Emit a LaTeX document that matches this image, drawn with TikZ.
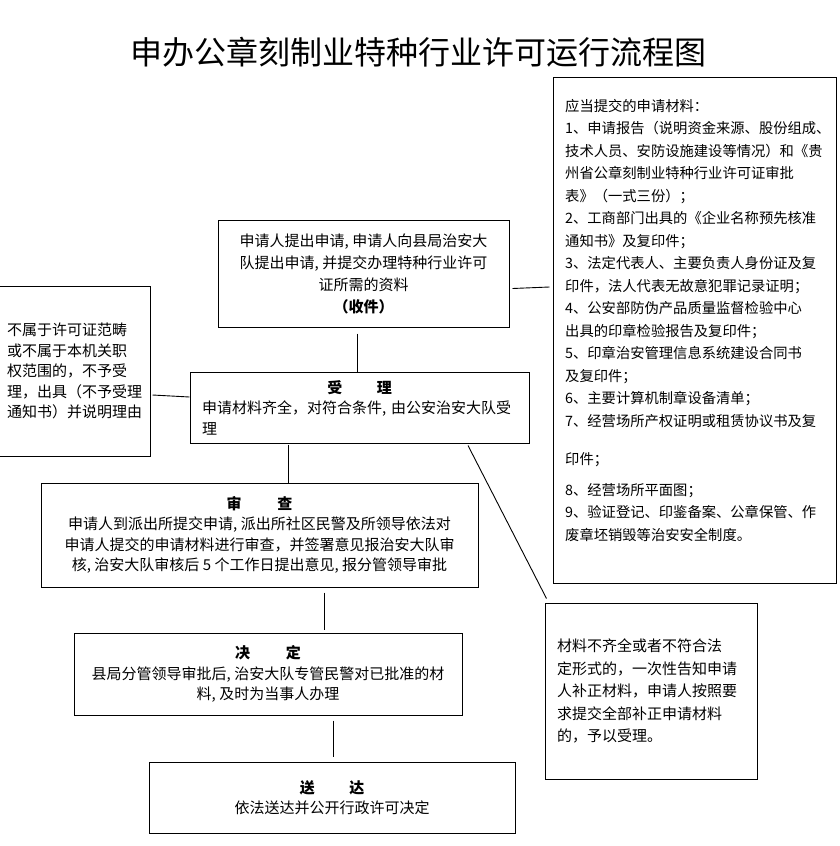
\documentclass[tikz,border=0pt]{standalone}
\usepackage{fontspec}
\setmainfont{Noto Sans CJK SC}
\usetikzlibrary{calc}
\begin{document}
\begin{tikzpicture}[x=1pt,y=-1pt,
  box/.style={draw, line width=1pt, inner sep=0pt, align=center, font=\fontsize{15}{20.5}\selectfont},
  conn/.style={line width=0.9pt},
  hd/.style={}]
\useasboundingbox (0,0) rectangle (840,846);
\fill[white] (0,0) rectangle (840,846);

\node[font=\fontsize{32}{36}\selectfont, inner sep=0pt] (title) at (418,52) {申办公章刻制业特种行业许可运行流程图};

% right materials box
\node[box, minimum width=283pt, minimum height=506pt] (mat) at (694.5,330) {};
\node[anchor=north west, inner sep=0pt, align=left, font=\fontsize{14.3}{22.5}\selectfont] (mattext) at (565,99) {应当提交的申请材料：\\
1、申请报告（说明资金来源、股份组成、\\
技术人员、安防设施建设等情况）和《贵\\
州省公章刻制业特种行业许可证审批\\
表》（一式三份）；\\
2、工商部门出具的《企业名称预先核准\\
通知书》及复印件；\\
3、法定代表人、主要负责人身份证及复\\
印件，法人代表无故意犯罪记录证明；\\
4、公安部防伪产品质量监督检验中心\\
出具的印章检验报告及复印件；\\
5、印章治安管理信息系统建设合同书\\
及复印件；\\
6、主要计算机制章设备清单；\\
7、经营场所产权证明或租赁协议书及复\\[16pt]
印件；\\[8pt]
8、经营场所平面图；\\
9、验证登记、印鉴备案、公章保管、作\\
废章坯销毁等治安安全制度。};

% top box
\node[box, minimum width=291pt, minimum height=107pt, font=\fontsize{15}{22}\selectfont] (top) at (363.5,273.5) {申请人提出申请, 申请人向县局治安大\\队提出申请, 并提交办理特种行业许可\\证所需的资料\\\textbf{（收件）}};

% left box
\node[box, align=left, minimum width=151pt, minimum height=170pt] (nol) at (74.5,371) {不属于许可证范畴\\或不属于本机关职\\权范围的，不予受\\理，出具（不予受理\\通知书）并说明理由};

% accept box
\node[box, align=left, text width=315pt, inner xsep=12pt, minimum height=71pt] (acc) at (359.5,407.5) {\makebox[315pt][c]{\bfseries 受\hspace{2.3em}理}\\申请材料齐全，对符合条件, 由公安治安大队受\\理};

% review box
\node[box, minimum width=437pt, minimum height=104pt] (rev) at (259.5,535) {\textbf{审\hspace{2.4em}查}\\申请人到派出所提交申请, 派出所社区民警及所领导依法对\\申请人提交的申请材料进行审查，并签署意见报治安大队审\\核, 治安大队审核后 5 个工作日提出意见, 报分管领导审批};

% decision box
\node[box, minimum width=388pt, minimum height=82pt] (dec) at (268,674) {\textbf{决\hspace{2.4em}定}\\县局分管领导审批后, 治安大队专管民警对已批准的材\\料, 及时为当事人办理};

% delivery box
\node[box, minimum width=366pt, minimum height=71pt] (del) at (332,797.5) {\textbf{送\hspace{2.3em}达}\\依法送达并公开行政许可决定};

% reject / supplement box
\node[box, align=left, text width=188pt, inner xsep=12pt, minimum height=176pt, font=\fontsize{15}{22.5}\selectfont] (rej) at (651,691) {材料不齐全或者不符合法\\定形式的，一次性告知申请\\人补正材料，申请人按照要\\求提交全部补正申请材料\\的，予以受理。};

% connectors
\draw[conn] ([shift={(3,15)}]top.east) -- ([shift={(-3,-43)}]mat.west);
\draw[conn] ([shift={(-6.5,6)}]top.south) -- ([shift={(-2.5,0)}]acc.north);
\draw[conn] ([shift={(2,24)}]nol.east) -- ([shift={(0,-10.5)}]acc.west);
\draw[conn] ([shift={(-71.5,1)}]acc.south) -- ([shift={(28.5,0)}]rev.north);
\draw[conn] ([shift={(108.5,2)}]acc.south) -- ([shift={(2,-4)}]rej.north west);
\draw[conn] ([shift={(64.5,5)}]rev.south) -- ([shift={(56,-3)}]dec.north);
\draw[conn] ([shift={(65,5)}]dec.south) -- ([shift={(1,-5)}]del.north);
\end{tikzpicture}
\end{document}
